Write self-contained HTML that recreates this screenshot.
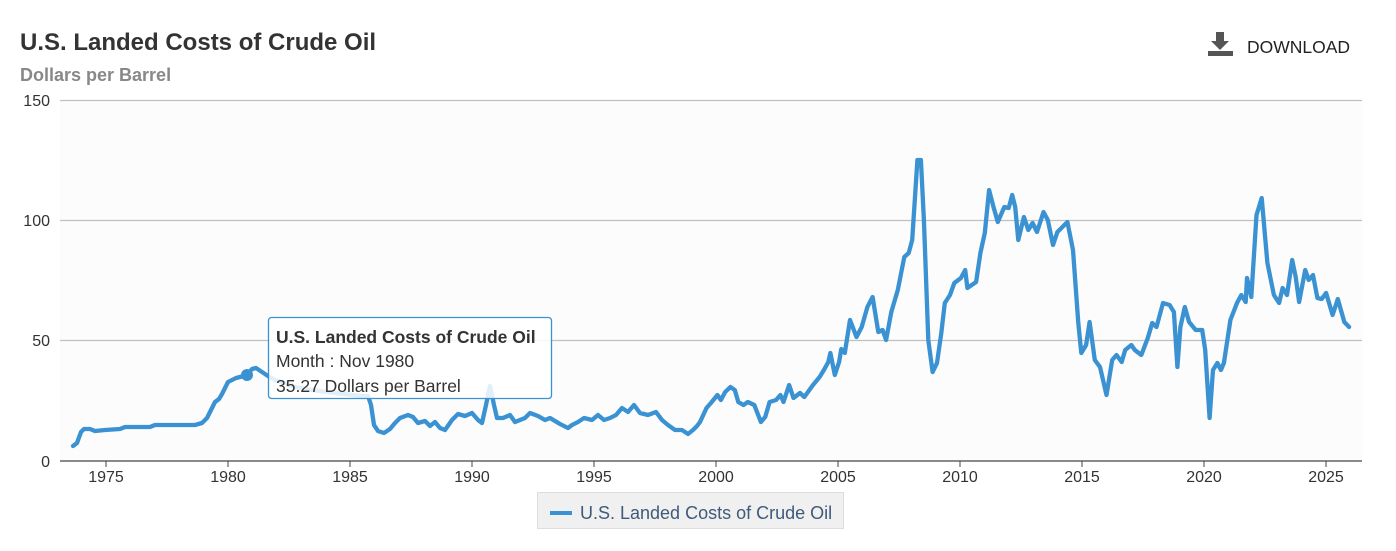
<!DOCTYPE html>
<html><head><meta charset="utf-8"><style>
body{margin:0;background:#fff;font-family:"Liberation Sans",sans-serif;}
svg{display:block}
</style></head><body>
<svg width="1396" height="551" xmlns="http://www.w3.org/2000/svg" font-family="Liberation Sans, sans-serif">
<rect width="1396" height="551" fill="#fff"/>
<rect x="60" y="100" width="1302" height="361" fill="#fcfcfc"/>
<text x="20" y="50" font-size="24" font-weight="bold" fill="#333">U.S. Landed Costs of Crude Oil</text>
<text x="20" y="81" font-size="18" font-weight="bold" fill="#888">Dollars per Barrel</text>
<g fill="#555"><rect x="1216" y="32" width="8" height="10"/><polygon points="1211,41 1229,41 1220,50"/><rect x="1208" y="51" width="25" height="5"/></g>
<text x="1247" y="53" font-size="17.5" fill="#222">DOWNLOAD</text>
<g stroke="#c0c0c0" stroke-width="1.3"><line x1="60" y1="100.5" x2="1362" y2="100.5"/><line x1="60" y1="220.5" x2="1362" y2="220.5"/><line x1="60" y1="340.5" x2="1362" y2="340.5"/></g>
<line x1="60" y1="461" x2="1362" y2="461" stroke="#444" stroke-width="1.3"/>
<g font-size="16" fill="#333" text-anchor="end"><text x="50" y="106">150</text><text x="50" y="226">100</text><text x="50" y="346">50</text><text x="50" y="467">0</text></g>
<g stroke="#444"><line x1="106" y1="461" x2="106" y2="467"/><line x1="228" y1="461" x2="228" y2="467"/><line x1="350" y1="461" x2="350" y2="467"/><line x1="472" y1="461" x2="472" y2="467"/><line x1="594" y1="461" x2="594" y2="467"/><line x1="716" y1="461" x2="716" y2="467"/><line x1="838" y1="461" x2="838" y2="467"/><line x1="960" y1="461" x2="960" y2="467"/><line x1="1082" y1="461" x2="1082" y2="467"/><line x1="1204" y1="461" x2="1204" y2="467"/><line x1="1326" y1="461" x2="1326" y2="467"/></g>
<g font-size="16" fill="#333" text-anchor="middle"><text x="106" y="482">1975</text><text x="228" y="482">1980</text><text x="350" y="482">1985</text><text x="472" y="482">1990</text><text x="594" y="482">1995</text><text x="716" y="482">2000</text><text x="838" y="482">2005</text><text x="960" y="482">2010</text><text x="1082" y="482">2015</text><text x="1204" y="482">2020</text><text x="1326" y="482">2025</text></g>
<polyline fill="none" stroke="#3a92d2" stroke-width="4.3" stroke-linejoin="round" stroke-linecap="round" points="73,446 77,443 81,432 84,429 90,429 95,431 105,430 120,429 125,427 150,427 155,425 195,425 202,423 207,418 211,410 215,402 219,399 222,394 225,388 228,382 232,380 236,378 240,377 247,375 252,369 256,368 262,372 268,376 275,380 285,383 295,387 305,389 320,391 335,393 345,394 360,396 368,396 371,405 374,425 378,431 384,433 390,429 395,423 400,418 408,415 413,417 418,423 425,421 430,426 435,422 440,428 445,430 452,420 458,414 465,416 472,413 478,420 482,423 486,405 490,386 494,405 497,418 503,418 510,415 515,422 520,420 525,418 530,413 538,416 545,420 550,418 560,424 568,428 572,425 578,422 584,418 592,420 598,415 604,420 610,418 616,415 622,408 628,412 634,405 640,413 648,415 656,412 662,420 668,425 675,430 682,430 688,434 693,430 697,426
700,422 706.5,408 710.9,403 717.4,395 720.9,400 725.2,392 730.4,387 734.8,390 738.3,402 743.5,405 747.8,402 754.3,405 760.9,422 765.2,417 769.6,402 776.1,400 780.4,395 783.5,402 789.1,385 793.5,398 800,393 804.3,397 813,385 819.6,377 823.9,370 828.3,362 830.4,353 834.8,375 839.1,362 841.3,349 844.8,353 850,320 856.5,337 861.7,327 867.4,307 872.6,297 878.3,332 882.6,330 886.1,340 891.3,312 897.8,290 904.3,257 908.7,253 912.2,240 917.4,160 920.9,160 923.9,220 928.3,340 932.6,372 937,363 941.3,333 944.8,303 950,295 954.3,283 960.9,278 965.2,270 967.4,288 976.1,282 980.4,253 984.8,233 989.1,190 993.5,207 997.8,222 1004.3,207 1008.7,208 1012.2,195 1015.2,207 1018.3,240 1023.9,217 1028.3,230 1032.6,223 1037,232 1043.5,212 1047.8,220 1053,245 1057.4,232 1067.4,222 1073,250 1078.3,323 1081.3,353 1086.1,345 1089.6,322 1094.8,360 1100,367 1106.5,395 1112.2,360 1116.5,355 1121.7,362 1125.2,350 1131.3,345 1134.8,350 1141.3,355 1147.8,338 1152.2,323 1156.5,327 1163,303 1169.6,305 1173.9,312 1177.4,367 1180.4,327 1184.8,307 1189.1,322 1195.7,330 1202.2,330 1205.2,350 1209.6,418 1213,370 1217.4,363 1220.9,370 1223.9,363 1230.4,320 1237,303 1241.3,295 1245.7,302 1247,278 1251.3,297 1256.5,215 1261.7,198 1267.4,263 1273.9,295 1279.1,303 1282.6,288 1287,295 1292.2,260 1295.7,277 1299.1,302 1305.2,270 1308.7,280 1313,275 1317.4,298 1321.7,299 1326.1,293 1332.6,315 1337.8,299 1344.3,322 1349.1,327"/>
<circle cx="247" cy="375" r="6" fill="#3a92d2"/>
<rect x="268.5" y="317.5" width="283" height="81" rx="3" fill="#fff" fill-opacity="0.85" stroke="#3a92d2" stroke-width="1.3"/>
<text x="276" y="343" font-size="17.5" font-weight="bold" fill="#333">U.S. Landed Costs of Crude Oil</text>
<text x="276" y="367" font-size="17.5" fill="#333">Month : Nov 1980</text>
<text x="276" y="392" font-size="17.5" fill="#333">35.27 Dollars per Barrel</text>
<rect x="537.5" y="492.5" width="306" height="36" fill="#f0f0f0" stroke="#ddd"/>
<line x1="550" y1="513" x2="572" y2="513" stroke="#3a92d2" stroke-width="4"/>
<text x="580" y="519" font-size="18" fill="#3f5a7a">U.S. Landed Costs of Crude Oil</text>
</svg>
</body></html>
